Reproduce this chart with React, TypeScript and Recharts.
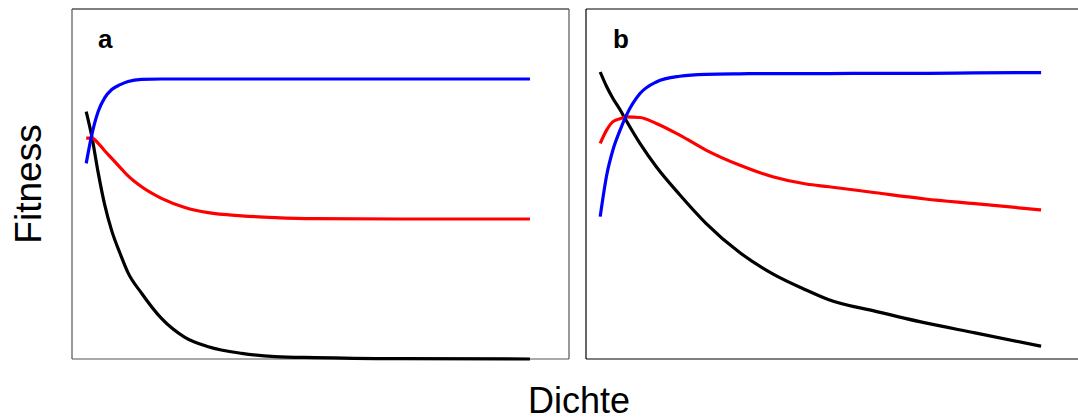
import { LineChart, Line, XAxis, YAxis, ReferenceLine } from "recharts";

// panel a
const densityA = [2, 2.8, 3.7, 4.6, 5.6, 6.8, 7.9, 9.8, 12.6, 15.9, 19.2, 23.9, 28.6, 34.2, 46.2, 64.5];
const blueA = [0.559, 0.642, 0.708, 0.746, 0.77, 0.784, 0.793, 0.799, 0.8, 0.8, 0.8, 0.8, 0.8, 0.8, 0.8, 0.8];
const redA = [0.631, 0.631, 0.616, 0.595, 0.573, 0.547, 0.523, 0.492, 0.459, 0.433, 0.418, 0.409, 0.404, 0.401, 0.4, 0.4];
const blackA = [0.707, 0.635, 0.531, 0.441, 0.366, 0.3, 0.246, 0.188, 0.116, 0.062, 0.035, 0.016, 0.007, 0.004, 0.001, 0];

// panel b
const densityB = [2, 2.9, 3.8, 4.8, 5.7, 7.6, 9.9, 13.2, 16.9, 21.6, 26.3, 31, 34.2, 40.8, 47.8, 54.8, 64.1];
const blueB = [2.297, 2.928, 3.328, 3.631, 3.862, 4.195, 4.374, 4.462, 4.492, 4.5, 4.503, 4.503, 4.503, 4.508, 4.508, 4.515, 4.518];
const redB = [3.426, 3.631, 3.762, 3.808, 3.835, 3.826, 3.734, 3.554, 3.323, 3.092, 2.912, 2.8, 2.758, 2.665, 2.569, 2.497, 2.4];
const blackB = [4.528, 4.305, 4.12, 3.945, 3.772, 3.426, 3.066, 2.635, 2.194, 1.746, 1.414, 1.165, 1.015, 0.835, 0.657, 0.503, 0.297];

const xTicks = [10, 20, 30, 40, 50, 60];
const yTicksA = [0.2, 0.4, 0.6, 0.8];
const yTicksB = [1, 2, 3, 4, 5];

const FONT = '"Liberation Sans", Arial, sans-serif';

function Panel({ x, blue, red, black, yDomain, yTicks, frame, left, rightEdge }: any) {
  const rows = x.map((d: number, i: number) => ({ density: d, blue: blue[i], red: red[i], black: black[i] }));
  return (
    <div style={{ position: "absolute", left, top: 0 }}>
      <LineChart width={600} height={400} data={rows} margin={{ top: 9, right: 31, bottom: 40, left: 71 }}>
        <XAxis
          dataKey="density"
          type="number"
          domain={[0, 70]}
          ticks={xTicks}
          height={1}
          tick={false}
          tickSize={3}
          axisLine={false}
          tickLine={{ stroke: "#888" }}
        />
        <YAxis
          type="number"
          domain={yDomain}
          ticks={yTicks}
          width={1}
          tick={false}
          tickSize={3}
          axisLine={false}
          tickLine={{ stroke: "#888" }}
        />
        <ReferenceLine y={yDomain[1]} stroke="#000" strokeWidth={1.2} />
        <ReferenceLine y={yDomain[0]} stroke={frame} strokeWidth={1.2} />
        <ReferenceLine x={0} stroke={frame} strokeWidth={1.2} />
        {rightEdge && <ReferenceLine x={70} stroke={frame} strokeWidth={1.2} />}
        <Line dataKey="black" type="monotone" stroke="#000000" strokeWidth={3.2} dot={false} isAnimationActive={false} />
        <Line dataKey="red" type="monotone" stroke="#ff0000" strokeWidth={3.2} dot={false} isAnimationActive={false} />
        <Line dataKey="blue" type="monotone" stroke="#0000ff" strokeWidth={3.2} dot={false} isAnimationActive={false} />
      </LineChart>
    </div>
  );
}

export default function App() {
  return (
    <div
      style={{
        position: "absolute",
        left: 0,
        top: 0,
        width: 1078,
        height: 419,
        overflow: "hidden",
        background: "#fff",
      }}
    >
      <Panel left={0} x={densityA} blue={blueA} red={redA} black={blackA} yDomain={[0, 1]} yTicks={yTicksA} frame="#555" rightEdge />
      <Panel left={514} x={densityB} blue={blueB} red={redB} black={blackB} yDomain={[0.1, 5.5]} yTicks={yTicksB} frame="#000" rightEdge={false} />
      <svg width={1078} height={419} style={{ position: "absolute", left: 0, top: 0, pointerEvents: "none" }}>
        <text x={98} y={48} fontFamily={FONT} fontWeight="bold" fontSize={26}>a</text>
        <text x={613} y={48} fontFamily={FONT} fontWeight="bold" fontSize={26}>b</text>
        <text x={579} y={413} fontFamily={FONT} fontSize={36} textAnchor="middle">Dichte</text>
        <text x={41} y={184} fontFamily={FONT} fontSize={37} textAnchor="middle" transform="rotate(-90 41 184)">Fitness</text>
      </svg>
    </div>
  );
}
